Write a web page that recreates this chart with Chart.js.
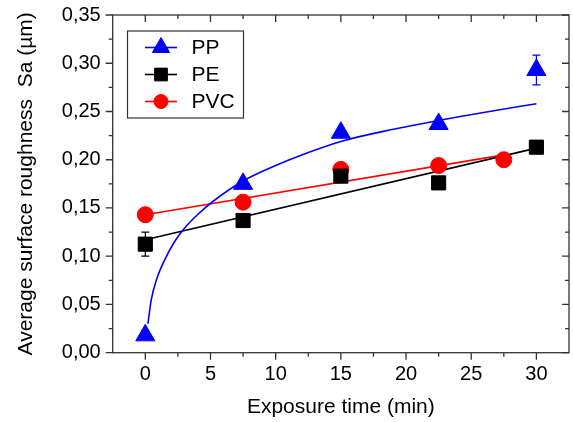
<!DOCTYPE html>
<html>
<head>
<meta charset="utf-8">
<script src="https://cdn.jsdelivr.net/npm/chart.js@4/dist/chart.umd.min.js"></script>
<style>
  html, body { margin: 0; background: #fff; overflow: hidden; }
  #wrap { width: 573px; height: 422px; position: relative; }
  #wrap canvas { display: block; }
</style>
</head>
<body>
<div id="wrap"><canvas id="chart"></canvas></div>
<script>
// measured points
const times = [0, 7.5, 15, 22.5, 30];
const ppValues = [0.018, 0.175, 0.228, 0.237, 0.293];
const ppErrors = [0.002, 0.003, 0.003, 0.002, 0.0155];
const peValues = [0.1125, 0.137, 0.183, 0.176, 0.213];
const peErrors = [0.0125, 0.002, 0.003, 0.002, 0.002];
const pvcTimes = [0, 7.5, 15, 22.5, 27.5];
const pvcValues = [0.143, 0.156, 0.190, 0.194, 0.200];
const pvcErrors = [0.002, 0.002, 0.002, 0.002, 0.002];

// fitted curves
const ppFitTimes = [0.2, 0.46, 0.84, 1.48, 2.24, 3.0, 4.0, 5.3, 7.5, 10, 12.4, 15, 18.8, 22.6, 26.4, 30];
const ppFitValues = [0.030, 0.055, 0.075, 0.096, 0.115, 0.129, 0.143, 0.158, 0.178, 0.194, 0.207, 0.219, 0.231, 0.241, 0.250, 0.258];
const peFitTimes = [0, 30];
const peFitValues = [0.117, 0.212];
const pvcFitTimes = [0, 27.5];
const pvcFitValues = [0.143, 0.205];

// axes
const xTicks = [0, 5, 10, 15, 20, 25, 30];
const yTicks = [0, 0.05, 0.10, 0.15, 0.20, 0.25, 0.30, 0.35];
const xTitle = 'Exposure time (min)';
const yTitle = 'Average surface roughness  Sa (\u00b5m)';
const FONT = "'Liberation Sans', Arial, sans-serif";

const pts = (xs, ys) => xs.map((x, i) => ({ x, y: ys[i] }));

const markers = [
  { label: 'PP', color: '#0000ff', style: 'triangle', r: 11, xs: times, ys: ppValues, err: ppErrors },
  { label: 'PE', color: '#000000', style: 'rect', r: 10, xs: times, ys: peValues, err: peErrors },
  { label: 'PVC', color: '#ff0000', style: 'circle', r: 8, xs: pvcTimes, ys: pvcValues, err: pvcErrors }
];

const fits = [
  { color: '#0000ff', xs: ppFitTimes, ys: ppFitValues },
  { color: '#000000', xs: peFitTimes, ys: peFitValues },
  { color: '#ff0000', xs: pvcFitTimes, ys: pvcFitValues }
];

const datasets = [];
markers.forEach(m => datasets.push({
  label: m.label,
  data: pts(m.xs, m.ys),
  pointStyle: m.style,
  pointRadius: m.r,
  pointHoverRadius: m.r,
  backgroundColor: m.color,
  borderColor: m.color,
  borderWidth: 1,
  showLine: false,
  order: 0
}));
fits.forEach(f => datasets.push({
  label: '',
  data: pts(f.xs, f.ys),
  borderColor: f.color,
  borderWidth: 1.6,
  pointRadius: 0,
  showLine: true,
  fill: false,
  cubicInterpolationMode: 'monotone',
  order: 1
}));

const frame = {
  id: 'frame',
  beforeDatasetsDraw(chart) {
    const { ctx, scales: { x, y } } = chart;
    ctx.save();
    ctx.lineWidth = 1.2;
    chart.data.datasets.forEach((ds, di) => {
      const m = markers[di];
      if (!m) return;
      ctx.strokeStyle = m.color;
      m.xs.forEach((t, i) => {
        const px = x.getPixelForValue(t);
        const top = y.getPixelForValue(m.ys[i] + m.err[i]);
        const bot = y.getPixelForValue(m.ys[i] - m.err[i]);
        ctx.beginPath();
        ctx.moveTo(px, top); ctx.lineTo(px, bot);
        ctx.moveTo(px - 4, top); ctx.lineTo(px + 4, top);
        ctx.moveTo(px - 4, bot); ctx.lineTo(px + 4, bot);
        ctx.stroke();
      });
    });
    ctx.restore();
  },
  afterDraw(chart) {
    const { ctx, chartArea: a, scales: { x, y } } = chart;
    ctx.save();
    ctx.strokeStyle = '#333';
    ctx.lineWidth = 1.3;
    ctx.strokeRect(a.left, a.top, a.right - a.left, a.bottom - a.top);
    const mid = v => v.slice(1).map((t, i) => (t + v[i]) / 2);
    ctx.beginPath();
    xTicks.forEach(v => {
      const p = x.getPixelForValue(v);
      ctx.moveTo(p, a.bottom); ctx.lineTo(p, a.bottom + 7);
      ctx.moveTo(p, a.top); ctx.lineTo(p, a.top + 7);
    });
    mid(xTicks).forEach(v => {
      const p = x.getPixelForValue(v);
      ctx.moveTo(p, a.bottom); ctx.lineTo(p, a.bottom + 4);
      ctx.moveTo(p, a.top); ctx.lineTo(p, a.top + 4);
    });
    yTicks.forEach(v => {
      const p = y.getPixelForValue(v);
      ctx.moveTo(a.left, p); ctx.lineTo(a.left - 7, p);
      ctx.moveTo(a.right, p); ctx.lineTo(a.right - 7, p);
    });
    mid(yTicks).forEach(v => {
      const p = y.getPixelForValue(v);
      ctx.moveTo(a.left, p); ctx.lineTo(a.left - 4, p);
      ctx.moveTo(a.right, p); ctx.lineTo(a.right - 4, p);
    });
    ctx.stroke();

    // legend box
    const bx = 127.5, by = 31, bw = 116, bh = 87;
    ctx.lineWidth = 1.2;
    ctx.strokeStyle = '#333';
    ctx.fillStyle = '#fff';
    ctx.fillRect(bx, by, bw, bh);
    ctx.strokeRect(bx, by, bw, bh);
    ctx.font = '21px ' + FONT;
    ctx.textBaseline = 'middle';
    markers.forEach((m, i) => {
      const ly = 47.5 + i * 27;
      ctx.strokeStyle = m.color;
      ctx.fillStyle = m.color;
      ctx.lineWidth = 1.6;
      ctx.beginPath();
      ctx.moveTo(145, ly); ctx.lineTo(177, ly);
      ctx.stroke();
      ctx.lineWidth = 1;
      Chart.helpers.drawPoint(ctx, { pointStyle: m.style, radius: m.r - 1, rotation: 0, borderWidth: 1 }, 161, ly);
      ctx.fillStyle = '#000';
      ctx.fillText(m.label, 191.5, ly + 1);
    });
    ctx.restore();
  }
};

new Chart(document.getElementById('chart'), {
  type: 'scatter',
  data: { datasets },
  options: {
    responsive: true,
    maintainAspectRatio: false,
    animation: false,
    events: [],
    layout: { autoPadding: false, padding: { left: 0, top: 15, right: 4, bottom: 0 } },
    plugins: { legend: { display: false }, tooltip: { enabled: false } },
    scales: {
      x: {
        type: 'linear',
        min: -2.5,
        max: 32.5,
        grid: { display: false, drawTicks: false },
        border: { display: false },
        afterBuildTicks: s => { s.ticks = xTicks.map(v => ({ value: v })); },
        ticks: {
          autoSkip: false,
          padding: 10,
          color: '#000',
          font: { family: FONT, size: 20 },
          maxRotation: 0,
          callback: v => String(v)
        },
        title: { display: true, text: xTitle, color: '#000', font: { family: FONT, size: 21 }, padding: { top: 0, bottom: 2 } },
        afterFit: s => { s.height = 69.3; s.paddingLeft = 0; s.paddingRight = 0; }
      },
      y: {
        min: 0,
        max: 0.35,
        grid: { display: false, drawTicks: false },
        border: { display: false },
        afterBuildTicks: s => { s.ticks = yTicks.map(v => ({ value: v })); },
        ticks: {
          autoSkip: false,
          padding: 12,
          color: '#000',
          font: { family: FONT, size: 20 },
          callback: v => v.toFixed(2).replace('.', ',')
        },
        title: { display: true, text: yTitle, color: '#000', font: { family: FONT, size: 21 }, padding: { top: 14, bottom: 0 } },
        afterFit: s => { s.width = 112.7; s.paddingTop = 0; s.paddingBottom = 0; }
      }
    }
  },
  plugins: [frame]
});
</script>
</body>
</html>
